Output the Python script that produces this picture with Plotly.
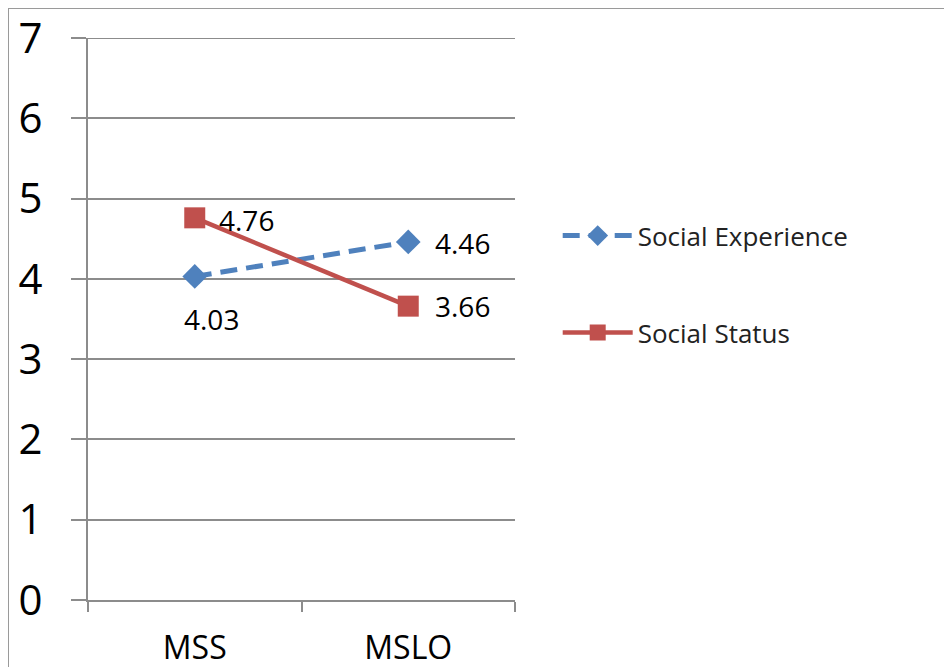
import plotly.graph_objects as go

categories = ["MSS", "MSLO"]
social_experience = [4.03, 4.46]
social_status = [4.76, 3.66]
y_ticks = [0, 1, 2, 3, 4, 5, 6, 7]

BLUE = "#4F81BD"
RED = "#C0504D"
GRID = "#8C8C8C"
FONT = "Open Sans"

W, H = 944, 659
L, T = 80, 30
PW, PH = 427, 562
R = W - L - PW
B = H - T - PH

fig = go.Figure()
fig.add_trace(go.Scatter(
    x=categories, y=social_experience, name="Social Experience",
    mode="lines+markers",
    line=dict(color=BLUE, width=5, dash="17px,9px"),
    marker=dict(symbol="diamond", size=19, color=BLUE),
    legendgroup="a", cliponaxis=False,
))
fig.add_trace(go.Scatter(
    x=categories, y=social_status, name="Social Status",
    mode="lines+markers",
    line=dict(color=RED, width=4.5),
    marker=dict(symbol="square", size=21, color=RED),
    legendgroup="b", cliponaxis=False,
))

label_font = dict(size=28, color="#000000", family=FONT)
annotations = []
# (category, value, xshift, yshift, anchor)
label_specs = [
    (categories[0], social_experience[0], 17, -43, "center"),
    (categories[1], social_experience[1], 25, -1, "left"),
    (categories[0], social_status[0], 22, -2, "left"),
    (categories[1], social_status[1], 25, 0, "left"),
]
for cat, val, xs, ys, anc in label_specs:
    annotations.append(dict(
        x=cat, y=val, xref="x", yref="y", text=f"{val:.2f}",
        showarrow=False, xanchor=anc, yanchor="middle",
        xshift=xs, yshift=ys, font=label_font,
    ))

def px_x(p):
    return (p - L) / PW

def px_y(p):
    return (T + PH - p) / PH

fig.update_layout(
    width=W, height=H,
    margin=dict(l=L, r=R, t=T, b=B, autoexpand=False),
    paper_bgcolor="white", plot_bgcolor="white",
    font=dict(family=FONT, color="#000000"),
    showlegend=True,
    legend=dict(
        x=1.1, y=0.69, xanchor="left", yanchor="top",
        font=dict(size=26, color="#222222", family=FONT),
        itemwidth=70, tracegroupgap=60, traceorder="grouped",
        bgcolor="rgba(0,0,0,0)",
    ),
    xaxis=dict(
        type="category", range=[-0.5, 1.5], automargin=False,
        showline=True, linecolor=GRID, linewidth=2,
        ticks="outside", tickson="boundaries", ticklen=10, tickcolor=GRID, tickwidth=2,
        showgrid=False, tickfont=dict(size=32, family=FONT), ticklabelstandoff=19,
        ticklabeloverflow="allow",
    ),
    yaxis=dict(
        range=[0, 7], tickvals=y_ticks, automargin=False,
        showline=True, linecolor=GRID, linewidth=2,
        showgrid=True, gridcolor=GRID, gridwidth=2, zeroline=False,
        ticks="outside", ticklen=15, tickcolor=GRID, tickwidth=2,
        tickfont=dict(size=42, family=FONT), ticklabelstandoff=20,
        ticklabeloverflow="allow",
    ),
    annotations=annotations,
    shapes=[
        dict(type="line", xref="paper", yref="y",
             x0=0, x1=1, y0=y_ticks[-1], y1=y_ticks[-1],
             line=dict(color=GRID, width=2), layer="below"),
        dict(type="line", xref="paper", yref="paper",
             x0=px_x(0), x1=px_x(W), y0=px_y(0), y1=px_y(0),
             line=dict(color="#9A9A9A", width=2)),
        dict(type="line", xref="paper", yref="paper",
             x0=px_x(0), x1=px_x(0), y0=px_y(0), y1=px_y(H),
             line=dict(color="#9A9A9A", width=2)),
    ],
)

fig.write_html("out.html")
